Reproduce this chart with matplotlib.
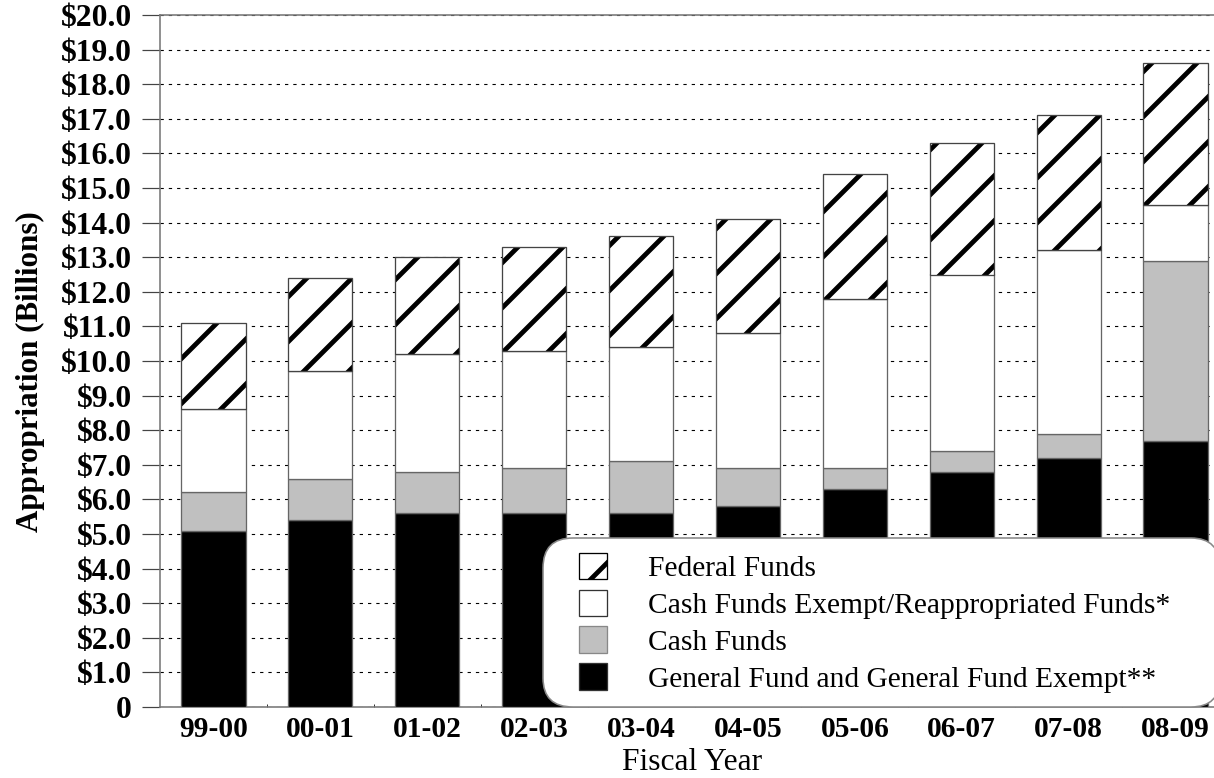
import matplotlib
matplotlib.use("Agg")
import matplotlib.pyplot as plt
import matplotlib.patches as mpatches
from matplotlib.legend_handler import HandlerPatch
import numpy as np

# ---------------- data ----------------
years = ["99-00", "00-01", "01-02", "02-03", "03-04", "04-05", "05-06", "06-07", "07-08", "08-09"]
general_fund = [5.1, 5.4, 5.6, 5.6, 5.6, 5.8, 6.3, 6.8, 7.2, 7.7]
cash_funds = [1.1, 1.2, 1.2, 1.3, 1.5, 1.1, 0.6, 0.6, 0.7, 5.2]
cash_funds_exempt = [2.4, 3.1, 3.4, 3.4, 3.3, 3.9, 4.9, 5.1, 5.3, 1.6]
federal_funds = [2.5, 2.7, 2.8, 3.0, 3.2, 3.3, 3.6, 3.8, 3.9, 4.1]
series_labels = ["Federal Funds",
                 "Cash Funds Exempt/Reappropriated Funds*",
                 "Cash Funds",
                 "General Fund and General Fund Exempt**"]
yticks = list(range(0, 21))
ytick_labels = ["0"] + ["${:.1f}".format(v) for v in yticks[1:]]

# ---------------- style ----------------
W, H = 1214, 778
DPI = 270


def px(v):
    return v * 72.0 / DPI


plt.rcParams['font.family'] = ['Liberation Serif', 'DejaVu Serif']
plt.rcParams['hatch.linewidth'] = px(4.8)
plt.rcParams['lines.scale_dashes'] = False

fig = plt.figure(figsize=(W / DPI, H / DPI), dpi=DPI)
ax = fig.add_axes([160 / W, 71 / H, (W - 160) / W, 692 / H])

x = np.arange(len(years))
gf = np.array(general_fund)
cf = np.array(cash_funds)
cfe = np.array(cash_funds_exempt)
fed = np.array(federal_funds)

bw = 0.6
edge = '#666666'
elw = px(1.3)
ax.bar(x, gf, width=bw, color='black', edgecolor=edge, linewidth=elw, zorder=3)
ax.bar(x, cf, bottom=gf, width=bw, color='#c0c0c0', edgecolor=edge, linewidth=elw, zorder=3)
ax.bar(x, cfe, bottom=gf + cf, width=bw, color='white', edgecolor=edge, linewidth=elw, zorder=3)
ax.bar(x, fed, bottom=gf + cf + cfe, width=bw, color='white', edgecolor='black',
       linewidth=0, hatch='//', zorder=3)
ax.bar(x, fed, bottom=gf + cf + cfe, width=bw, fill=False, edgecolor='#444444',
       linewidth=elw, zorder=3.5)

ax.set_xlim(-0.5, -0.5 + (W - 160) / 106.9)
ax.set_ylim(0, 20)

ax.set_yticks(yticks)
ax.set_yticklabels(ytick_labels)
ax.set_xticks(x)
ax.set_xticklabels(years)
ax.set_xticks(x[:-1] + 0.5, minor=True)

ax.tick_params(axis='y', which='major', direction='out', length=px(18), width=px(1.2),
               color='#444444', pad=px(10), labelsize=px(31.5))
ax.tick_params(axis='x', which='major', length=0, pad=px(9), labelsize=px(29.5))
ax.tick_params(axis='x', which='minor', direction='in', length=px(3), width=px(1),
               color='#333333')
for lab in ax.get_yticklabels() + ax.get_xticklabels():
    lab.set_fontweight('bold')

ax.set_axisbelow(True)
ax.yaxis.grid(True, which='major', color='black', linewidth=px(1.1),
              linestyle=(0, (px(3.3), px(5.0))))
ax.xaxis.grid(False)

ax.spines['right'].set_visible(False)
for s in ['left', 'top', 'bottom']:
    ax.spines[s].set_color('#777777')
    ax.spines[s].set_linewidth(px(1.6))

ax.set_ylabel("Appropriation (Billions)", fontsize=px(31), fontweight='bold')
ax.yaxis.set_label_coords((45 - 160) / (W - 160), (707 - 372) / 692)
ax.set_xlabel("Fiscal Year", fontsize=px(31.5))
ax.xaxis.set_label_coords((692 - 160) / (W - 160), (707 - 748) / 692)

# ---------------- legend ----------------
handles = [
    mpatches.Patch(facecolor='white', edgecolor='black', hatch='//', linewidth=px(1.3)),
    mpatches.Patch(facecolor='white', edgecolor='#333333', linewidth=px(1.3)),
    mpatches.Patch(facecolor='#c0c0c0', edgecolor='#888888', linewidth=px(1.3)),
    mpatches.Patch(facecolor='black', edgecolor='#333333', linewidth=px(1.3)),
]

LEG_FS = 29.5
OFF = px(21)


def offset_patch(legend, orig_handle, xdescent, ydescent, width, height, fontsize):
    return mpatches.Rectangle((-xdescent + OFF, -ydescent), width - OFF, height)


hm = {h: HandlerPatch(patch_func=offset_patch) for h in handles}
leg = ax.legend(handles, series_labels, loc='upper left',
                bbox_to_anchor=(543 / W, (H - 708) / H, (1220 - 543) / W, 170 / H),
                bbox_transform=fig.transFigure, mode='expand', borderaxespad=0,
                borderpad=0.5, fontsize=px(LEG_FS), handlelength=(21 + 28) / LEG_FS,
                handleheight=30 / LEG_FS, handletextpad=41 / LEG_FS, labelspacing=0.25,
                framealpha=1, fancybox=True, handler_map=hm)
frame = leg.get_frame()
frame.set_boxstyle('round', pad=0, rounding_size=1.0)
frame.set_edgecolor('#888888')
frame.set_linewidth(px(1.6))
frame.set_facecolor('white')

fig.savefig("out.png", dpi=DPI)
